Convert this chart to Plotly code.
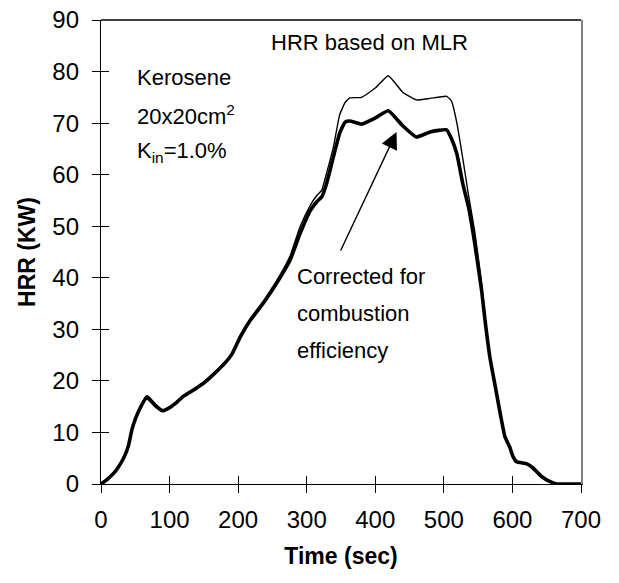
import plotly.graph_objects as go

# ---- data ----
time_s = [0, 10, 20, 30, 35, 40, 45, 50, 57, 66, 70, 80, 90, 100, 110, 120, 137, 152,
          166, 181, 191, 203, 217, 239, 261, 276, 290, 305, 315, 322, 329, 339, 348,
          356, 363, 380, 400, 419, 440, 460, 480, 504, 511, 519, 528, 536, 545, 555,
          560, 567, 575, 582, 589, 596, 600, 606, 621, 630, 643, 655, 665, 680, 700]

hrr_corrected = [0, 1.0, 2.3, 4.3, 5.6, 7.4, 10.5, 12.6, 14.7, 16.7, 16.5, 15.1, 14.2,
                 14.8, 15.8, 17.0, 18.4, 19.8, 21.5, 23.5, 25.2, 28.5, 31.6, 35.5, 40.0,
                 43.5, 48.5, 53.0, 54.8, 55.7, 58.3, 63.5, 68.0, 70.2, 70.4, 69.8, 71.0,
                 72.4, 69.5, 67.3, 68.3, 68.7, 67.0, 64.0, 58.0, 53.7, 46.7, 37.6, 31.8,
                 24.7, 18.9, 13.8, 9.2, 7.2, 5.6, 4.3, 3.9, 3.1, 1.4, 0.45, 0, 0, 0]

hrr_mlr = [0, 1.1, 2.5, 4.5, 5.8, 7.6, 10.7, 12.9, 15.0, 17.1, 16.9, 15.4, 14.4,
           15.0, 16.0, 17.2, 18.6, 20.0, 21.7, 23.7, 25.4, 28.8, 31.9, 35.9, 40.5,
           44.3, 49.8, 54.0, 56.0, 57.0, 60.3, 65.4, 71.6, 74.0, 74.9, 75.0, 76.8,
           79.2, 76.0, 74.5, 74.8, 75.2, 74.3, 70.0, 62.8, 56.0, 49.0, 39.0, 32.5,
           25.0, 19.1, 14.0, 9.4, 7.3, 5.7, 4.4, 4.0, 3.2, 1.5, 0.5, 0, 0, 0]

x_ticks = [0, 100, 200, 300, 400, 500, 600, 700]
y_ticks = [0, 10, 20, 30, 40, 50, 60, 70, 80, 90]

FONT = "Liberation Sans, Arial, sans-serif"

fig = go.Figure()
fig.add_trace(go.Scatter(x=time_s, y=hrr_mlr, mode="lines",
                         line=dict(color="black", width=1.4, shape="spline", smoothing=0.4),
                         showlegend=False, hoverinfo="skip"))
fig.add_trace(go.Scatter(x=time_s, y=hrr_corrected, mode="lines",
                         line=dict(color="black", width=3.6, shape="spline", smoothing=0.4),
                         showlegend=False, hoverinfo="skip"))
# helper traces so that overlay axes (crossing ticks, frame) are drawn
fig.add_trace(go.Scatter(x=[None], y=[None], xaxis="x2", yaxis="y2",
                         showlegend=False, hoverinfo="skip"))
fig.add_trace(go.Scatter(x=[None], y=[None], xaxis="x", yaxis="y3",
                         showlegend=False, hoverinfo="skip"))

axis_common = dict(showgrid=False, zeroline=False, showline=True,
                   linecolor="black", linewidth=1.4, tickcolor="black",
                   tickwidth=1.2, ticklen=8, automargin=False,
                   ticklabeloverflow="allow")

# page body has an 8px margin, so the figure is sized/placed to compensate
fig.update_layout(
    width=603, height=567,
    margin=dict(l=93, r=30, t=12, b=91),
    paper_bgcolor="white", plot_bgcolor="white",
    font=dict(family=FONT, color="black"),
    xaxis=dict(range=[0, 700], tickvals=x_ticks, ticks="outside",
               tickfont=dict(size=24), ticklabelstandoff=6,
               title=dict(text="<b>Time (sec)</b>", font=dict(size=23)),
               **axis_common),
    xaxis2=dict(range=[0, 700], tickvals=x_ticks, ticks="inside", overlaying="x",
                side="bottom", showticklabels=False, **axis_common),
    yaxis=dict(range=[0, 90], tickvals=y_ticks, ticks="outside",
               tickfont=dict(size=24), ticklabelstandoff=8,
               title=dict(text="<b>HRR (KW)</b>", font=dict(size=23), standoff=10),
               **axis_common),
    yaxis2=dict(range=[0, 90], tickvals=y_ticks, ticks="inside", overlaying="y",
                side="left", showticklabels=False, **axis_common),
    yaxis3=dict(range=[0, 90], overlaying="y", side="right", showgrid=False,
                zeroline=False, showline=True, linecolor="#808080", linewidth=1.6,
                ticks="", showticklabels=False, automargin=False),
)

# top frame line of the plot area
fig.add_shape(type="line", xref="paper", yref="paper", x0=0, x1=1, y0=1, y1=1,
              line=dict(color="black", width=1.4), layer="above")

ann_font = dict(family=FONT, size=22, color="black")
notes = [
    ("HRR based on MLR", 392, 85.7, "center"),
    ("Kerosene", 49.6, 78.9, "left"),
    ("20x20cm<sup>2</sup>", 49.6, 71.6, "left"),
    ("K<sub>in</sub>=1.0%", 49.6, 64.4, "left"),
    ("Corrected for", 283, 40.3, "left"),
    ("combustion", 283, 33.0, "left"),
    ("efficiency", 283, 25.8, "left"),
]
for txt, xx, yy, anc in notes:
    fig.add_annotation(x=xx, y=yy, xref="x", yref="y", text=txt, showarrow=False,
                       xanchor=anc, yanchor="middle", font=ann_font)

# arrow pointing to the corrected curve
fig.add_annotation(x=431, y=68.3, ax=348.5, ay=45, xref="x", yref="y",
                   axref="x", ayref="y", text="", showarrow=True,
                   arrowhead=2, arrowsize=2.4, arrowwidth=1.4, arrowcolor="black")

fig.write_html("out.html")
